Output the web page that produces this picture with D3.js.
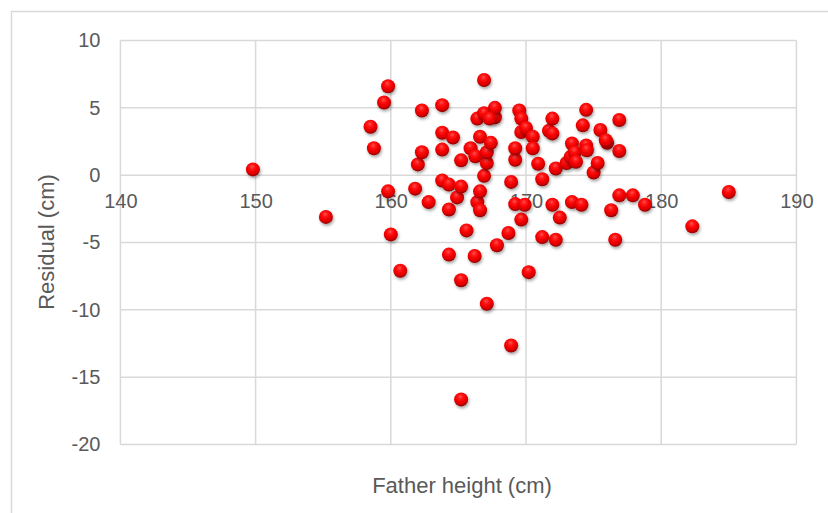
<!DOCTYPE html>
<html lang="en">
  <head>
    <meta charset="UTF-8" />
    <title>Residual vs Father height</title>
    <style>
  body { margin: 0; background: #fff; }
  .chart text { font-family: "Liberation Sans", Arial, sans-serif; fill: #595959; }
</style>
  </head>
  <body>
<div class="chart"></div>
  <script src="https://cdn.jsdelivr.net/npm/d3@7"></script>
    <script>

    // father height (cm) and residual (cm)
    var fatherHeight = [
      149.8, 155.2, 158.5, 158.75, 159.5, 159.8, 159.8, 160.0, 160.7, 161.8,
      162.0, 162.3, 162.3, 162.8, 163.8, 163.8, 163.8, 163.8, 164.3, 164.3,
      164.3, 164.6, 164.9, 165.2, 165.2, 165.2, 165.2, 165.6, 165.9, 166.2,
      166.25, 166.4, 166.4, 166.6, 166.6, 166.6, 166.9, 166.9, 166.9, 167.1,
      167.1, 167.1, 167.4, 167.7, 167.7, 167.3, 167.85, 168.7, 168.9, 168.9,
      169.2, 169.2, 169.2, 169.5, 169.65, 169.65, 169.65, 169.9, 170.0, 170.2,
      170.5, 170.5, 170.9, 171.2, 171.2, 171.7, 171.95, 171.95, 171.95, 172.2,
      172.2, 172.5, 173.0, 173.3, 173.4, 173.4, 173.6, 173.7, 174.1, 174.2,
      174.45, 174.45, 174.5, 175.0, 175.3, 175.5, 176.0, 175.9, 176.3, 176.6,
      176.9, 176.9, 176.9, 177.9, 178.8, 182.3, 185.0
    ];
    var residual = [
      0.43, -3.1, 3.6, 2.0, 5.4, 6.6, -1.2, -4.4, -7.1, -1.0,
      0.8, 1.7, 4.8, -2.0, 5.2, 3.15, 1.9, -0.4, -0.7, -2.55,
      -5.9, 2.8, -1.65, 1.1, -0.85, -7.8, -16.65, -4.1, 2.0, -6.0,
      1.4, -2.0, 4.2, -1.2, 2.85, -2.6, 4.6, 7.07, -0.05, 0.9,
      1.7, -9.55, 2.4, 4.3, 5.0, 4.2, -5.2, -4.3, -0.5, -12.65,
      1.15, 2.0, -2.15, 4.8, 4.2, 3.2, -3.3, -2.2, 3.5, -7.2,
      2.85, 2.0, 0.85, -0.3, -4.6, 3.3, 4.2, 3.1, -2.2, 0.5,
      -4.8, -3.15, 0.9, 1.35, 2.35, -2.0, 1.7, 1.0, -2.2, 3.7,
      4.85, 2.2, 1.85, 0.2, 0.9, 3.35, 2.4, 2.6, -2.6, -4.8,
      4.1, 1.8, -1.5, -1.5, -2.2, -3.8, -1.25
    ];
    var xTicks = [140, 150, 160, 170, 180, 190];
    var yTicks = [-20, -15, -10, -5, 0, 5, 10];

    var width = 828;
    var height = 513;

    var points = fatherHeight.map(function(d, i){
      return {x: d, y: residual[i]};
    });

    var x = d3.scaleLinear().domain([140, 190]).range([120.4, 796.4]);
    var y = d3.scaleLinear().domain([-20, 10]).range([444.5, 40.5]);

    var svg = d3.select(".chart")
        .append("svg")
        .attr("width", width)
        .attr("height", height);

    var defs = svg.append("defs");
    var grad = defs.append("radialGradient")
        .attr("id", "ball")
        .attr("cx", "45%").attr("cy", "35%").attr("r", "65%")
        .attr("fx", "45%").attr("fy", "30%");
    grad.append("stop").attr("offset", "0%").attr("stop-color", "#ff5050");
    grad.append("stop").attr("offset", "35%").attr("stop-color", "#ff0a0a");
    grad.append("stop").attr("offset", "75%").attr("stop-color", "#e00000");
    grad.append("stop").attr("offset", "100%").attr("stop-color", "#8a0000");

    var shadow = defs.append("filter")
        .attr("id", "shadow")
        .attr("x", "-50%").attr("y", "-50%")
        .attr("width", "200%").attr("height", "200%");
    shadow.append("feDropShadow")
        .attr("dx", 1).attr("dy", 2)
        .attr("stdDeviation", 1.6)
        .attr("flood-color", "#000")
        .attr("flood-opacity", 0.35);

    // chart border
    svg.append("rect")
        .attr("x", 11.5).attr("y", 11.5)
        .attr("width", 900).attr("height", 600)
        .attr("fill", "#fff")
        .attr("stroke", "#d9d9d9")
        .attr("stroke-width", 1.5);

    // gridlines
    var grid = svg.append("g");
    grid.selectAll(".gx")
        .data(xTicks)
        .enter()
        .append("line")
        .attr("x1", function(d){ return x(d); })
        .attr("x2", function(d){ return x(d); })
        .attr("y1", y(10)).attr("y2", y(-20))
        .attr("stroke", "#d9d9d9")
        .attr("stroke-width", 1.5);
    grid.selectAll(".gy")
        .data(yTicks)
        .enter()
        .append("line")
        .attr("x1", x(140)).attr("x2", x(190))
        .attr("y1", function(d){ return y(d); })
        .attr("y2", function(d){ return y(d); })
        .attr("stroke", "#d9d9d9")
        .attr("stroke-width", 1.5);

    // axes (labels only), plain hyphen for negatives
    var fmt = function(d){ return String(d); };
    var xAxis = svg.append("g")
        .attr("transform", "translate(0," + y(0) + ")")
        .call(d3.axisBottom(x).tickValues(xTicks).tickFormat(fmt).tickSize(0).tickPadding(19));
    var yAxis = svg.append("g")
        .attr("transform", "translate(" + x(140) + ",0)")
        .call(d3.axisLeft(y).tickValues(yTicks).tickFormat(fmt).tickSize(0).tickPadding(20));
    [xAxis, yAxis].forEach(function(a){
      a.select(".domain").remove();
      a.selectAll("text")
        .attr("font-size", 20)
        .attr("font-family", "Liberation Sans, Arial, sans-serif")
        .attr("fill", "#595959");
    });

    // points
    svg.append("g")
        .selectAll("circle")
        .data(points)
        .enter()
        .append("circle")
        .attr("cx", function(d){ return x(d.x); })
        .attr("cy", function(d){ return y(d.y); })
        .attr("r", 7)
        .attr("fill", "url(#ball)")
        .attr("filter", "url(#shadow)");

    // titles
    svg.append("text")
        .attr("x", 462)
        .attr("y", 493)
        .attr("text-anchor", "middle")
        .attr("font-size", 22)
        .text("Father height (cm)");

    svg.append("text")
        .attr("transform", "translate(54,242) rotate(-90)")
        .attr("text-anchor", "middle")
        .attr("font-size", 22)
        .text("Residual (cm)");

    </script>
  </body>
</html>
